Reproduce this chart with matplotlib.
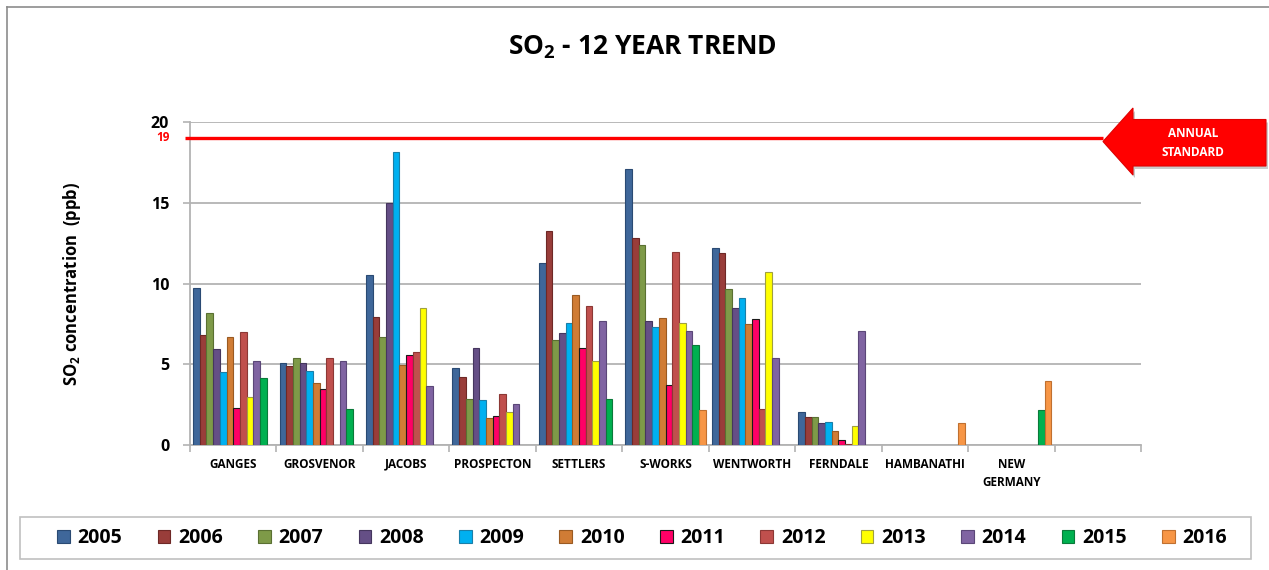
import numpy as np
import matplotlib
matplotlib.use("Agg")
import matplotlib.pyplot as plt
from matplotlib.patches import Polygon, Rectangle
from matplotlib.lines import Line2D

plt.rcParams['font.family'] = ['Open Sans', 'DejaVu Sans']
plt.rcParams['mathtext.fontset'] = 'custom'
plt.rcParams['mathtext.rm'] = 'Open Sans:bold'
plt.rcParams['mathtext.bf'] = 'Open Sans:bold'
plt.rcParams['mathtext.it'] = 'Open Sans:bold'

nan = np.nan
categories = ['GANGES', 'GROSVENOR', 'JACOBS', 'PROSPECTON', 'SETTLERS', 'S-WORKS',
              'WENTWORTH', 'FERNDALE', 'HAMBANATHI', 'NEW\nGERMANY', '']
years = ['2005', '2006', '2007', '2008', '2009', '2010', '2011', '2012', '2013', '2014', '2015', '2016']

v2005 = [9.75, 5.11, 10.52, 4.76, 11.26, 17.07, 12.19, 2.04, nan, nan, nan]
v2006 = [6.80, 4.93, 7.94, 4.25, 13.24, 12.82, 11.88, 1.73, nan, nan, nan]
v2007 = [8.19, 5.42, 6.68, 2.85, 6.49, 12.37, 9.63, 1.73, nan, nan, nan]
v2008 = [5.94, 5.11, 14.99, 6.00, 6.93, 7.69, 8.49, 1.36, nan, nan, nan]
v2009 = [4.54, 4.62, 18.12, 2.78, 7.55, 7.30, 9.11, 1.42, nan, nan, nan]
v2010 = [6.68, 3.86, 4.95, 1.67, 9.32, 7.88, 7.48, 0.87, nan, nan, nan]
v2011 = [2.29, 3.48, 5.61, 1.79, 6.04, 3.73, 7.79, 0.35, nan, nan, nan]
v2012 = [6.99, 5.42, 5.75, 3.18, 8.60, 11.94, 2.23, 0.08, nan, nan, nan]
v2013 = [2.99, nan, 8.49, 2.04, 5.24, 7.55, 10.74, 1.18, nan, nan, nan]
v2014 = [5.18, 5.18, 3.69, 2.56, 7.69, 7.05, 5.38, 7.05, nan, nan, nan]
v2015 = [4.19, 2.23, nan, nan, 2.85, 6.19, nan, nan, nan, 2.19, nan]
v2016 = [nan, nan, nan, nan, nan, 2.16, nan, nan, 1.36, 3.98, nan]
series = [v2005, v2006, v2007, v2008, v2009, v2010, v2011, v2012, v2013, v2014, v2015, v2016]

annual_standard = 19

colors = ['#3F679A', '#993D3A', '#7E9A48', '#654F86', '#00B0F0', '#D07C35',
          '#FF0066', '#C0504D', '#FFFF00', '#8064A2', '#00B050', '#F79646']
edges = ['#2A4A73', '#6E2826', '#5A7032', '#45365E', '#1A7FA8', '#9A5A22',
         '#1A1A1A', '#8C3835', '#A0A040', '#5B4778', '#0A7A3A', '#C07030']

W, H = 1269, 570
fig = plt.figure(figsize=(W / 100, H / 100), dpi=100)
ax = fig.add_axes([190 / W, 1 - 445.3 / H, (1141 - 190) / W, (445.3 - 121.7) / H])

x = np.arange(len(categories))
bw = 0.0773
handles = []
for j, (vals, c, e) in enumerate(zip(series, colors, edges)):
    b = ax.bar(x + (j - 5.5) * bw, vals, width=bw, color=c, edgecolor=e,
               linewidth=0.8, zorder=3, label=years[j])
    handles.append(b)

ax.set_xlim(-0.5, len(categories) - 0.5)
ax.set_ylim(0, 20)
ax.set_yticks([0, 5, 10, 15, 20])
ax.yaxis.grid(True, color='#B3B3B3', linewidth=1.3, zorder=0)
ax.set_axisbelow(True)
for s in ['top', 'right']:
    ax.spines[s].set_visible(False)
for s in ['left', 'bottom']:
    ax.spines[s].set_color('#B3B3B3')
    ax.spines[s].set_linewidth(1.3)

ax.set_xticks(x)
ax.set_xticklabels(categories, fontsize=8.5, fontweight='bold', linespacing=1.5)
ax.set_xticks(np.arange(-0.5, len(categories), 1.0), minor=True)
ax.tick_params(axis='x', which='major', length=0, pad=9)
ax.tick_params(axis='x', which='minor', length=5, color='#B3B3B3', width=1.2)
ax.tick_params(axis='y', length=5, color='#B3B3B3', width=1.2, labelsize=11.5, pad=10)
for lab in ax.get_yticklabels():
    lab.set_fontweight('bold')

# annual standard line
ax.plot([-0.005, (1103 - 190) / (1141 - 190)], [annual_standard, annual_standard],
        transform=ax.get_yaxis_transform(), color='#FF0000', linewidth=2.4,
        solid_capstyle='butt', zorder=5, clip_on=False)
ax.text(-0.021, annual_standard, str(annual_standard), transform=ax.get_yaxis_transform(),
        ha='right', va='center', color='#FF0000', fontsize=8.5, fontweight='bold')

ax.set_ylabel(r'SO$_\mathrm{2}$ concentration  (ppb)', fontsize=12, fontweight='bold')
ax.yaxis.set_label_coords((83 - 190) / (1141 - 190), 0.5)

fig.text(0.506, 1 - 47 / H, r'SO$_\mathrm{2}$ - 12 YEAR TREND', ha='center', va='center',
         fontsize=19, fontweight='bold')

# arrow
def fp(px, py):
    return (px / W, 1 - py / H)

arrow_pts = [(1103, 141.5), (1133, 108), (1133, 119.5), (1266, 119.5),
             (1266, 166), (1133, 166), (1133, 175)]
shadow = Polygon([fp(px + 2, py + 3) for px, py in arrow_pts], closed=True,
                 transform=fig.transFigure, facecolor='#999999', edgecolor='none',
                 alpha=0.5, zorder=9)
arrow = Polygon([fp(px, py) for px, py in arrow_pts], closed=True,
                transform=fig.transFigure, facecolor='#FF0000', edgecolor='#E00000',
                linewidth=0.8, zorder=10)
fig.patches.extend([shadow, arrow])
fig.text(1193 / W, 1 - 133 / H, 'ANNUAL', ha='center', va='center', color='white',
         fontsize=8.5, fontweight='bold', zorder=11)
fig.text(1193 / W, 1 - 153 / H, 'STANDARD', ha='center', va='center', color='white',
         fontsize=8.5, fontweight='bold', zorder=11)

# chart border lines (top and left)
fig.add_artist(Line2D([7 / W, 1], [1 - 7 / H, 1 - 7 / H], transform=fig.transFigure,
                      color='#8C8C8C', linewidth=1.2))
fig.add_artist(Line2D([7 / W, 7 / W], [1 - 7 / H, 0], transform=fig.transFigure,
                      color='#8C8C8C', linewidth=1.2))

# legend frame
fig.patches.append(Rectangle(fp(20, 559), (1251 - 20) / W, 42 / H, transform=fig.transFigure,
                             facecolor='white', edgecolor='#C0C0C0', linewidth=1.2, zorder=1))
leg = fig.legend(handles=handles, labels=years, ncol=12, mode='expand',
                 bbox_to_anchor=(57 / W, 1 - 538 / H, (1227 - 57) / W, 0),
                 loc='center left', borderaxespad=0, borderpad=0,
                 prop={'weight': 'bold', 'size': 14}, handlelength=0.65,
                 handleheight=0.65, handletextpad=0.4, frameon=False)

fig.savefig('out.png', dpi=100)
